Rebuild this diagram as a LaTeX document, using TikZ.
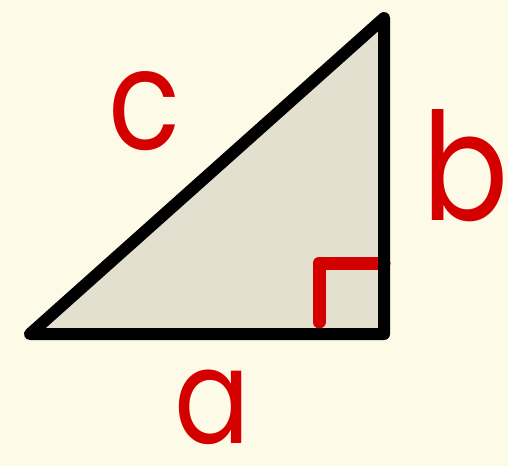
\documentclass[tikz,border=0pt]{standalone}
\usepackage{fontspec}
\setmainfont{Poppins}
\definecolor{bgc}{HTML}{FEFAE8}
\definecolor{fillc}{HTML}{E3E0D0}
\definecolor{redc}{HTML}{D40000}
\begin{document}
\begin{tikzpicture}[x=1pt,y=-1pt,
  edge/.style={line width=12pt,line join=round,line cap=round},
  marker/.style={draw=redc,line width=13pt,line join=round,line cap=round},
  lbl/.style={text=redc,font=\fontsize{140}{140}\selectfont,inner sep=0pt,xscale=0.85,text depth=0pt,anchor=base}]
\fill[bgc] (0,0) rectangle (508,466);
\useasboundingbox (0,0) rectangle (508,466);
\coordinate (A) at (30,334);
\coordinate (B) at (384,334);
\coordinate (C) at (384,18);
\coordinate (M1) at (319,322);
\coordinate (M2) at (319,263);
\coordinate (M3) at (384,263);
\fill[fillc] (A) -- (B) -- (C) -- cycle;
\draw[marker] (M1) -- (M2) -- (M3);
\draw[edge] (A) -- (B) -- (C) -- cycle;
\node[lbl] (c) at (145,149) {c};
\node[lbl,font=\fontsize{150}{150}\selectfont] (b) at (466,220) {b};
\node[lbl,font=\fontsize{132}{132}\selectfont] (a) at (212,443) {a};
\end{tikzpicture}
\end{document}
